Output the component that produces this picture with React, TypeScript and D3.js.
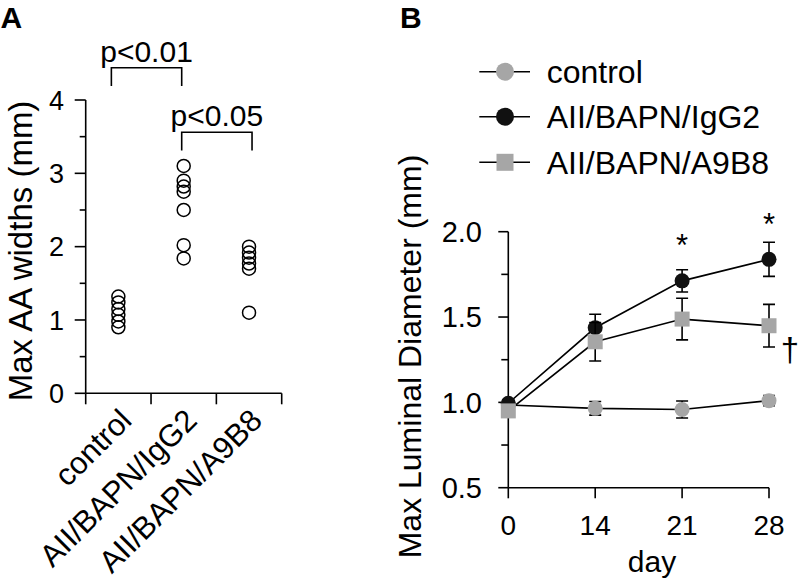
import React from "react";
import * as d3 from "d3";

// ---------- Panel A data ----------
const categoriesA = ["control", "AII/BAPN/IgG2", "AII/BAPN/A9B8"];
const valuesControlA = [1.32, 1.24, 1.15, 1.07, 0.98, 0.9];
const valuesIgG2A = [3.1, 2.9, 2.82, 2.75, 2.5, 2.02, 1.84];
const valuesA9B8A = [2.0, 1.92, 1.85, 1.77, 1.7, 1.1];
const yTicksA = [0, 1, 2, 3, 4];
const yMinorTicksA = [0.5, 1.5, 2.5, 3.5];
// significance brackets
const bracketsA = [
  { from: "control", to: "AII/BAPN/IgG2", level: 4.44, leg: 4.19, label: "p<0.01", dxFrom: -7, dxTo: -2 },
  { from: "AII/BAPN/IgG2", to: "AII/BAPN/A9B8", level: 3.56, leg: 3.31, label: "p<0.05", dxFrom: -2, dxTo: 3 },
];

// ---------- Panel B data ----------
const daysB = ["0", "14", "21", "28"];
const controlMean = [0.985, 0.965, 0.958, 1.01];
const controlErr = [0.02, 0.04, 0.05, 0.03];
const igg2Mean = [0.995, 1.437, 1.712, 1.838];
const igg2Err = [0.02, 0.079, 0.065, 0.1];
const a9b8Mean = [0.95, 1.355, 1.488, 1.449];
const a9b8Err = [0.02, 0.113, 0.122, 0.125];
const yTicksB = [0.5, 1.0, 1.5, 2.0];
const yMinorTicksB = [0.75, 1.25, 1.75];
const asterisksB = [
  { day: "21", value: 1.96 },
  { day: "28", value: 2.08 },
];
const daggerB = { day: "28", value: 1.35 };

const GRAY = "#a6a6a6";
const FONT = "'Liberation Sans', Arial, Helvetica, sans-serif";

const seriesB = [
  { name: "control", mean: controlMean, err: controlErr, fill: GRAY, shape: "circle" },
  { name: "AII/BAPN/IgG2", mean: igg2Mean, err: igg2Err, fill: "#111111", shape: "circle" },
  { name: "AII/BAPN/A9B8", mean: a9b8Mean, err: a9b8Err, fill: GRAY, shape: "square" },
];

function Marker({ shape, x, y, size, fill }: { shape: string; x: number; y: number; size: number; fill: string }) {
  if (shape === "square") {
    return <rect x={x - size / 2} y={y - size / 2} width={size} height={size} fill={fill} />;
  }
  return <circle cx={x} cy={y} r={size / 2} fill={fill} />;
}

export default function App() {
  // ---- Panel A scales ----
  const xA = d3.scaleBand<string>().domain(categoriesA).range([85.7, 281.7]).padding(0);
  const yA = d3.scaleLinear().domain([0, 4]).range([393.3, 100]);
  const cA = (c: string) => (xA(c) as number) + xA.bandwidth() / 2;
  const pointsA = [
    ...valuesControlA.map((v) => ({ c: categoriesA[0], v })),
    ...valuesIgG2A.map((v) => ({ c: categoriesA[1], v })),
    ...valuesA9B8A.map((v) => ({ c: categoriesA[2], v })),
  ];
  const bandEdges = [...categoriesA.map((c) => xA(c) as number), xA.range()[1]];

  // ---- Panel B scales ----
  const xB = d3.scalePoint<string>().domain(daysB).range([508.3, 769]);
  const yB = d3.scaleLinear().domain([0.5, 2.0]).range([487.7, 231.7]);
  const line = d3
    .line<number>()
    .x((_, i) => xB(daysB[i]) as number)
    .y((d) => yB(d));

  const legendRows = [71.7, 116.7, 162.3];

  return (
    <svg
      width={800}
      height={581}
      style={{ position: "absolute", left: 0, top: 0, background: "#fff" }}
      fontFamily={FONT}
    >
      <rect x={0} y={0} width={800} height={581} fill="#fff" />
      {/* ================= Panel A ================= */}
      <text x={0.5} y={28} fontSize={30} fontWeight="bold">A</text>
      <text
        transform={`translate(32,251) rotate(-90)`}
        textAnchor="middle"
        fontSize={33}
      >
        Max AA widths (mm)
      </text>
      {/* y axis */}
      <line x1={85.7} x2={85.7} y1={yA(4)} y2={yA(0)} stroke="#000" strokeWidth={1.6} />
      {yTicksA.map((t) => (
        <g key={"ya" + t}>
          <line x1={74.7} x2={85.7} y1={yA(t)} y2={yA(t)} stroke="#000" strokeWidth={1.6} />
          <text x={64} y={yA(t)} dy="0.36em" textAnchor="end" fontSize={27}>
            {t}
          </text>
        </g>
      ))}
      {yMinorTicksA.map((t) => (
        <line key={"yam" + t} x1={79.7} x2={85.7} y1={yA(t)} y2={yA(t)} stroke="#000" strokeWidth={1.6} />
      ))}
      {/* x axis */}
      <line x1={85.7} x2={281.7} y1={yA(0)} y2={yA(0)} stroke="#000" strokeWidth={1.6} />
      {bandEdges.map((x, i) => (
        <line key={"xa" + i} x1={x} x2={x} y1={yA(0)} y2={yA(0) + 11} stroke="#000" strokeWidth={1.6} />
      ))}
      {categoriesA.map((c) => (
        <text
          key={"xl" + c}
          transform={`translate(${cA(c) + 15},${yA(0) + 29}) rotate(-45)`}
          textAnchor="end"
          fontSize={31}
        >
          {c}
        </text>
      ))}
      {/* points */}
      {pointsA.map((p, i) => (
        <circle key={"pa" + i} cx={cA(p.c)} cy={yA(p.v)} r={6.5} fill="none" stroke="#000" strokeWidth={1.5} />
      ))}
      {/* brackets */}
      {bracketsA.map((b) => {
        const x1 = cA(b.from) + b.dxFrom;
        const x2 = cA(b.to) + b.dxTo;
        return (
          <g key={b.label}>
            <path
              d={`M${x1},${yA(b.leg)}V${yA(b.level)}H${x2}V${yA(b.leg)}`}
              fill="none"
              stroke="#000"
              strokeWidth={1.6}
            />
            <text x={(x1 + x2) / 2} y={yA(b.level) - 6} textAnchor="middle" fontSize={30}>
              {b.label}
            </text>
          </g>
        );
      })}

      {/* ================= Panel B ================= */}
      <text x={400} y={28} fontSize={30} fontWeight="bold">B</text>
      <text
        transform={`translate(421,356.5) rotate(-90)`}
        textAnchor="middle"
        fontSize={32}
      >
        Max Luminal Diameter (mm)
      </text>
      {/* legend */}
      {seriesB.map((s, i) => (
        <g key={"lg" + s.name}>
          <line x1={479.3} x2={530} y1={legendRows[i]} y2={legendRows[i]} stroke="#000" strokeWidth={1.6} />
          <Marker shape={s.shape} x={505} y={legendRows[i]} size={s.shape === "square" ? 17 : 18} fill={s.fill} />
          <text x={546.7} y={legendRows[i]} dy="0.36em" fontSize={32}>
            {s.name}
          </text>
        </g>
      ))}
      {/* y axis */}
      <line x1={508.3} x2={508.3} y1={yB(2.0)} y2={yB(0.5)} stroke="#000" strokeWidth={1.6} />
      {yTicksB.map((t) => (
        <g key={"yb" + t}>
          <line x1={498.3} x2={508.3} y1={yB(t)} y2={yB(t)} stroke="#000" strokeWidth={1.6} />
          <text x={482} y={yB(t)} dy="0.36em" textAnchor="end" fontSize={29}>
            {d3.format(".1f")(t)}
          </text>
        </g>
      ))}
      {yMinorTicksB.map((t) => (
        <line key={"ybm" + t} x1={501.3} x2={508.3} y1={yB(t)} y2={yB(t)} stroke="#000" strokeWidth={1.6} />
      ))}
      {/* x axis */}
      <line x1={508.3} x2={769} y1={yB(0.5)} y2={yB(0.5)} stroke="#000" strokeWidth={1.6} />
      {daysB.map((d) => (
        <g key={"xb" + d}>
          <line x1={xB(d)} x2={xB(d)} y1={yB(0.5)} y2={yB(0.5) + 10.6} stroke="#000" strokeWidth={1.6} />
          <text x={xB(d)} y={535} textAnchor="middle" fontSize={28}>
            {d}
          </text>
        </g>
      ))}
      <text x={652} y={571.5} textAnchor="middle" fontSize={30}>
        day
      </text>
      {/* lines */}
      {seriesB.map((s) => (
        <path key={"ln" + s.name} d={line(s.mean) as string} fill="none" stroke="#000" strokeWidth={1.6} />
      ))}
      {/* error bars and markers */}
      {seriesB.map((s) => (
        <g key={"mk" + s.name}>
          {s.mean.map((m, i) => {
            const x = xB(daysB[i]) as number;
            const e = s.err[i];
            return (
              <path
                key={"eb" + i}
                d={`M${x},${yB(m - e)}V${yB(m + e)}M${x - 6},${yB(m + e)}H${x + 6}M${x - 6},${yB(m - e)}H${x + 6}`}
                fill="none"
                stroke="#000"
                strokeWidth={1.6}
              />
            );
          })}
          {s.mean.map((m, i) => (
            <Marker key={"m" + i} shape={s.shape} x={xB(daysB[i]) as number} y={yB(m)} size={15} fill={s.fill} />
          ))}
        </g>
      ))}
      {/* annotations */}
      {asterisksB.map((a) => (
        <text key={"as" + a.day} x={xB(a.day)} y={yB(a.value) + 17} textAnchor="middle" fontSize={31}>
          *
        </text>
      ))}
      <text x={799} y={yB(daggerB.value) + 18} textAnchor="end" fontSize={33}>
        †
      </text>
    </svg>
  );
}
